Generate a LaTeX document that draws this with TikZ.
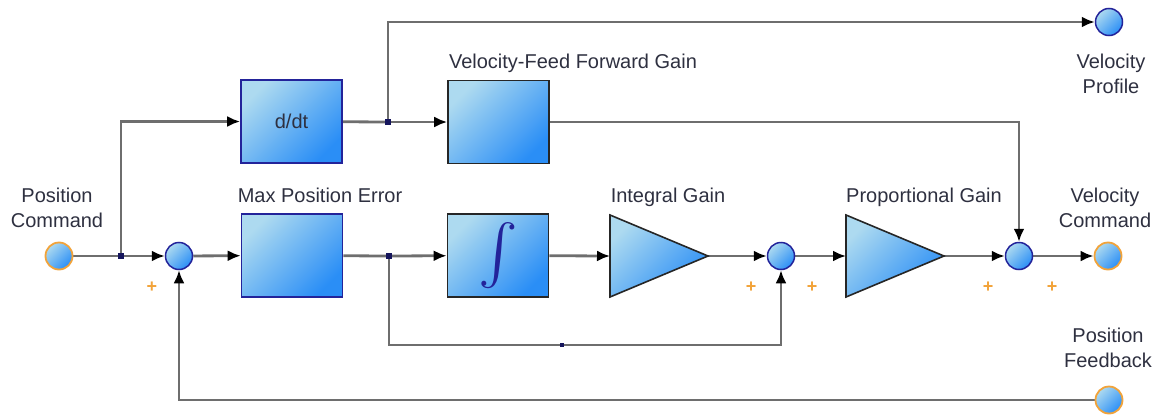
\documentclass[tikz,border=0pt]{standalone}
\usepackage{fontspec}
\setmainfont{Liberation Sans}
\usepackage{graphicx}
\usetikzlibrary{arrows.meta}
\definecolor{lightb}{HTML}{ADDAF0}
\definecolor{darkb}{HTML}{2A8EF6}
\definecolor{wirec}{HTML}{6E6E6E}
\definecolor{navy}{HTML}{23239A}
\definecolor{orng}{HTML}{F2A33A}
\definecolor{txt}{HTML}{2E3040}
\pgfdeclarelayer{background}
\pgfsetlayers{background,main}
\begin{document}
\begin{tikzpicture}[x=1pt,y=-1pt,
  font=\fontsize{20}{25}\selectfont,
  grad/.style={top color=lightb, bottom color=darkb, shading angle=45},
  blockb/.style={grad, draw=navy, line width=1.6pt, minimum width=101pt, minimum height=83pt, inner sep=0pt, text=txt},
  blockk/.style={grad, draw=black!85, line width=1.6pt, minimum width=101pt, minimum height=83pt, inner sep=0pt},
  tri/.style={grad, draw=black!85, line width=1.6pt, line join=miter},
  sumc/.style={circle, grad, draw=navy, line width=1.5pt, minimum size=27pt, inner sep=0pt},
  port/.style={circle, grad, draw=orng, line width=1.8pt, minimum size=27pt, inner sep=0pt},
  junc/.style={rectangle, fill=navy!60!black, minimum size=6pt, inner sep=0pt},
  wire/.style={draw=wirec, line width=2.8pt},
  arr/.style={wire, -{Latex[length=13pt,width=11pt,color=black]}},
  lbl/.style={text=txt, anchor=base, inner sep=0pt, align=center},
  plus/.style={text=orng, inner sep=0pt, font=\fontsize{18}{18}\selectfont\bfseries}
]
\useasboundingbox (0,0) rectangle (1156,415);

% ports and sums
\node[port] (pc) at (59,256) {};
\node[junc] (j1) at (121,256) {};
\node[sumc] (s1) at (179,256) {};
\node[blockb] (mpe) at (292,255.5) {};
\node[junc] (j2) at (389,256) {};
\node[blockk] (int) at (498,255.5) {\color{navy}\resizebox{!}{64pt}{$\int$}};
\path[tri] (610,215) -- (708,256) -- (610,297) -- cycle;
\coordinate (igin) at (610,256);
\coordinate (igout) at (708,256);
\node[sumc] (s2) at (781,256) {};
\path[tri] (846,215) -- (944,256) -- (846,297) -- cycle;
\coordinate (pgin) at (846,256);
\coordinate (pgout) at (944,256);
\node[sumc] (s3) at (1019,256) {};
\node[port] (vc) at (1108,256) {};

\node[blockb] (ddt) at (291.5,121.5) {d/dt};
\node[junc] (j3) at (388,122) {};
\node[blockk] (vff) at (498.5,122) {};
\node[sumc] (vp) at (1109,22) {};
\node[port] (pf) at (1109,400) {};
\node[junc, minimum size=3.5pt] (jm) at (562,345) {};

% connectors
\begin{pgfonlayer}{background}
\draw[wire] (pc) -- (j1);
\draw[arr] (j1) -- (s1);
\draw[arr] (j1.center) |- (ddt);
\draw[arr] (s1) -- (mpe);
\draw[wire] (mpe) -- (j2);
\draw[arr] (j2) -- (int);
\draw[arr] (int) -- (igin);
\draw[arr] (igout) -- (s2);
\draw[arr] (s2) -- (pgin);
\draw[arr] (pgout) -- (s3);
\draw[arr] (s3) -- (vc);
\draw[wire] (ddt) -- (j3);
\draw[arr] (j3) -- (vff);
\draw[arr] (j3.center) |- (vp);
\draw[arr] (vff) -| (s3);
\draw[wire] (j2.center) |- (jm.center);
\draw[arr] (jm.center) -| (s2);
\draw[arr] (pf) -| (s1);
\end{pgfonlayer}

% labels
\node[lbl] (lpc) at (57,227) {Position\\Command};
\node[lbl] (lmpe) at (320,202) {Max Position Error};
\node[lbl] (lvff) at (573,68) {Velocity-Feed Forward Gain};
\node[lbl] (lig) at (668,202) {Integral Gain};
\node[lbl] (lpg) at (924,202) {Proportional Gain};
\node[lbl] (lvc) at (1105,227) {Velocity\\Command};
\node[lbl] (lvp) at (1111,93) {Velocity\\Profile};
\node[lbl] (lpf) at (1108,367) {Position\\Feedback};

% plus signs
\node[plus] (p1) at (152,287) {+};
\node[plus] (p2) at (751,287) {+};
\node[plus] (p3) at (812,287) {+};
\node[plus] (p4) at (988,287) {+};
\node[plus] (p5) at (1052,287) {+};
\end{tikzpicture}
\end{document}
